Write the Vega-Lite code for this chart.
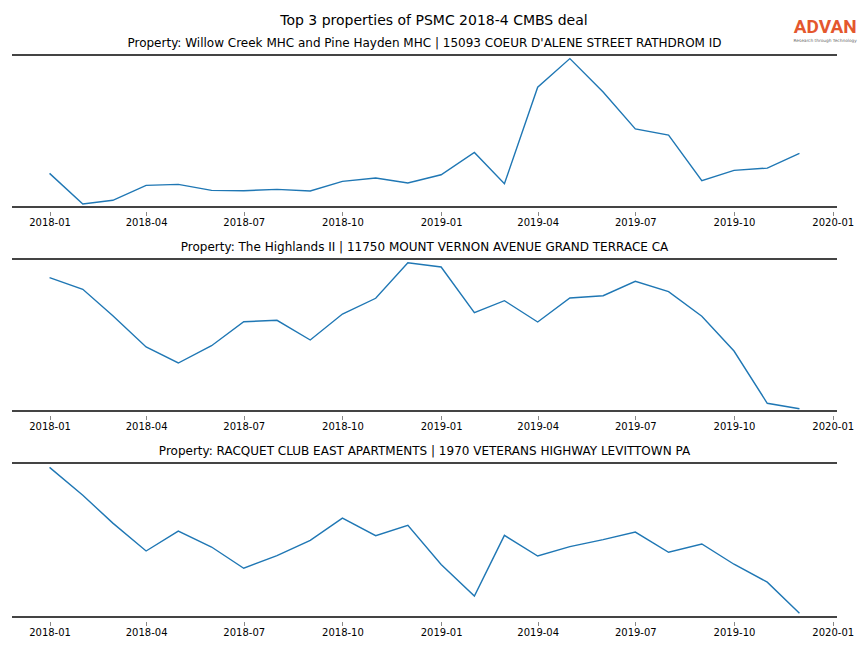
{
  "$schema": "https://vega.github.io/schema/vega-lite/v6.json",
  "padding": {"left": 11, "top": 13, "right": 4, "bottom": 4},
  "bounds": "flush",
  "spacing": 52,
  "title": {"text": "Top 3 properties of PSMC 2018-4 CMBS deal", "font": "DejaVu Sans", "fontSize": 14, "fontWeight": "normal", "color": "#000000", "anchor": "middle", "baseline": "alphabetic", "offset": -20.4},
  "data": {"values": [
    {"p": 1, "d": "2018-01-01", "v": 33.7}, {"p": 1, "d": "2018-02-01", "v": 3.0}, {"p": 1, "d": "2018-03-01", "v": 6.7}, {"p": 1, "d": "2018-04-01", "v": 21.7},
    {"p": 1, "d": "2018-05-01", "v": 22.7}, {"p": 1, "d": "2018-06-01", "v": 16.7}, {"p": 1, "d": "2018-07-01", "v": 16.3}, {"p": 1, "d": "2018-08-01", "v": 17.7},
    {"p": 1, "d": "2018-09-01", "v": 16.0}, {"p": 1, "d": "2018-10-01", "v": 25.7}, {"p": 1, "d": "2018-11-01", "v": 29.0}, {"p": 1, "d": "2018-12-01", "v": 24.0},
    {"p": 1, "d": "2019-01-01", "v": 32.3}, {"p": 1, "d": "2019-02-01", "v": 54.7}, {"p": 1, "d": "2019-03-01", "v": 23.3}, {"p": 1, "d": "2019-04-01", "v": 120.0},
    {"p": 1, "d": "2019-05-01", "v": 148.7}, {"p": 1, "d": "2019-06-01", "v": 115.3}, {"p": 1, "d": "2019-07-01", "v": 78.3}, {"p": 1, "d": "2019-08-01", "v": 72.0},
    {"p": 1, "d": "2019-09-01", "v": 26.3}, {"p": 1, "d": "2019-10-01", "v": 36.7}, {"p": 1, "d": "2019-11-01", "v": 39.0}, {"p": 1, "d": "2019-12-01", "v": 53.7},
    {"p": 2, "d": "2018-01-01", "v": 133.3}, {"p": 2, "d": "2018-02-01", "v": 121.7}, {"p": 2, "d": "2018-03-01", "v": 95.3}, {"p": 2, "d": "2018-04-01", "v": 64.0},
    {"p": 2, "d": "2018-05-01", "v": 48.0}, {"p": 2, "d": "2018-06-01", "v": 65.3}, {"p": 2, "d": "2018-07-01", "v": 89.3}, {"p": 2, "d": "2018-08-01", "v": 90.7},
    {"p": 2, "d": "2018-09-01", "v": 71.0}, {"p": 2, "d": "2018-10-01", "v": 97.0}, {"p": 2, "d": "2018-11-01", "v": 112.7}, {"p": 2, "d": "2018-12-01", "v": 148.3},
    {"p": 2, "d": "2019-01-01", "v": 144.0}, {"p": 2, "d": "2019-02-01", "v": 98.3}, {"p": 2, "d": "2019-03-01", "v": 110.3}, {"p": 2, "d": "2019-04-01", "v": 89.0},
    {"p": 2, "d": "2019-05-01", "v": 113.0}, {"p": 2, "d": "2019-06-01", "v": 115.3}, {"p": 2, "d": "2019-07-01", "v": 129.7}, {"p": 2, "d": "2019-08-01", "v": 119.3},
    {"p": 2, "d": "2019-09-01", "v": 94.7}, {"p": 2, "d": "2019-10-01", "v": 60.0}, {"p": 2, "d": "2019-11-01", "v": 7.7}, {"p": 2, "d": "2019-12-01", "v": 2.3},
    {"p": 3, "d": "2018-01-01", "v": 150.3}, {"p": 3, "d": "2018-02-01", "v": 122.3}, {"p": 3, "d": "2018-03-01", "v": 94.3}, {"p": 3, "d": "2018-04-01", "v": 66.3},
    {"p": 3, "d": "2018-05-01", "v": 86.3}, {"p": 3, "d": "2018-06-01", "v": 70.3}, {"p": 3, "d": "2018-07-01", "v": 49.0}, {"p": 3, "d": "2018-08-01", "v": 61.7},
    {"p": 3, "d": "2018-09-01", "v": 77.0}, {"p": 3, "d": "2018-10-01", "v": 99.3}, {"p": 3, "d": "2018-11-01", "v": 81.7}, {"p": 3, "d": "2018-12-01", "v": 92.0},
    {"p": 3, "d": "2019-01-01", "v": 52.7}, {"p": 3, "d": "2019-02-01", "v": 21.0}, {"p": 3, "d": "2019-03-01", "v": 82.0}, {"p": 3, "d": "2019-04-01", "v": 61.3},
    {"p": 3, "d": "2019-05-01", "v": 70.7}, {"p": 3, "d": "2019-06-01", "v": 77.7}, {"p": 3, "d": "2019-07-01", "v": 85.3}, {"p": 3, "d": "2019-08-01", "v": 65.0},
    {"p": 3, "d": "2019-09-01", "v": 73.3}, {"p": 3, "d": "2019-10-01", "v": 53.0}, {"p": 3, "d": "2019-11-01", "v": 35.0}, {"p": 3, "d": "2019-12-01", "v": 3.7}
  ]},
  "vconcat": [
    {
      "width": 825, "height": 152,
      "title": {"text": "Property: Willow Creek MHC and Pine Hayden MHC | 15093 COEUR D'ALENE STREET RATHDROM ID", "offset": -31.7},
      "transform": [{"filter": "datum.p == 1"}],
      "layer": [
        {"mark": {"type": "line", "color": "#1f77b4", "strokeWidth": 1.4},
         "encoding": {
           "x": {"field": "d", "type": "temporal", "scale": {"type": "utc", "domain": [{"year": 2017, "month": 11, "date": 27, "utc": true}, {"year": 2020, "month": 1, "date": 5, "utc": true}]}, "axis": {"format": "%Y-%m", "tickCount": {"interval": "month", "step": 3}, "title": null}},
           "y": {"field": "v", "type": "quantitative", "scale": {"domain": [0, 152.3], "nice": false, "zero": false}, "axis": null}}},
        {"data": {"values": [{}]}, "mark": {"type": "rule", "color": "#444444", "strokeWidth": 2}, "encoding": {"y": {"datum": 0}}},
        {"data": {"values": [{}]}, "mark": {"type": "rule", "color": "#444444", "strokeWidth": 2}, "encoding": {"y": {"datum": 152.3}}},
        {"data": {"values": [{"t": "ADVAN"}]}, "mark": {"type": "text", "font": "Roboto", "fontWeight": "bold", "fontSize": 19, "color": "#e4572e", "align": "center", "baseline": "middle"},
         "encoding": {"text": {"field": "t"}, "x": {"datum": {"year": 2019, "month": 12, "date": 25, "utc": true}}, "y": {"datum": 180}}},
        {"data": {"values": [{"t": "Research through Technology"}]}, "mark": {"type": "text", "font": "DejaVu Sans", "fontSize": 4.3, "color": "#666666", "align": "center", "baseline": "middle"},
         "encoding": {"text": {"field": "t"}, "x": {"datum": {"year": 2019, "month": 12, "date": 25, "utc": true}}, "y": {"datum": 166.3}}}
      ]
    },
    {
      "width": 825, "height": 152,
      "title": {"text": "Property: The Highlands II | 11750 MOUNT VERNON AVENUE GRAND TERRACE CA"},
      "transform": [{"filter": "datum.p == 2"}],
      "layer": [
        {"mark": {"type": "line", "color": "#1f77b4", "strokeWidth": 1.4},
         "encoding": {
           "x": {"field": "d", "type": "temporal", "scale": {"type": "utc", "domain": [{"year": 2017, "month": 11, "date": 27, "utc": true}, {"year": 2020, "month": 1, "date": 5, "utc": true}]}, "axis": {"format": "%Y-%m", "tickCount": {"interval": "month", "step": 3}, "title": null}},
           "y": {"field": "v", "type": "quantitative", "scale": {"domain": [0, 152], "nice": false, "zero": false}, "axis": null}}},
        {"data": {"values": [{}]}, "mark": {"type": "rule", "color": "#444444", "strokeWidth": 2}, "encoding": {"y": {"datum": 0}}},
        {"data": {"values": [{}]}, "mark": {"type": "rule", "color": "#444444", "strokeWidth": 2}, "encoding": {"y": {"datum": 152}}}
      ]
    },
    {
      "width": 825, "height": 154,
      "title": {"text": "Property: RACQUET CLUB EAST APARTMENTS | 1970 VETERANS HIGHWAY LEVITTOWN PA"},
      "transform": [{"filter": "datum.p == 3"}],
      "layer": [
        {"mark": {"type": "line", "color": "#1f77b4", "strokeWidth": 1.4},
         "encoding": {
           "x": {"field": "d", "type": "temporal", "scale": {"type": "utc", "domain": [{"year": 2017, "month": 11, "date": 27, "utc": true}, {"year": 2020, "month": 1, "date": 5, "utc": true}]}, "axis": {"format": "%Y-%m", "tickCount": {"interval": "month", "step": 3}, "title": null}},
           "y": {"field": "v", "type": "quantitative", "scale": {"domain": [0, 154.7], "nice": false, "zero": false}, "axis": null}}},
        {"data": {"values": [{}]}, "mark": {"type": "rule", "color": "#444444", "strokeWidth": 2}, "encoding": {"y": {"datum": 0}}},
        {"data": {"values": [{}]}, "mark": {"type": "rule", "color": "#444444", "strokeWidth": 2}, "encoding": {"y": {"datum": 154.7}}}
      ]
    }
  ],
  "config": {
    "font": "DejaVu Sans",
    "view": {"stroke": null},
    "title": {"font": "DejaVu Sans", "fontSize": 12, "fontWeight": "normal", "color": "#000000", "baseline": "alphabetic", "offset": 4, "anchor": "middle"},
    "axis": {"domain": false, "grid": false, "offset": 4.5, "ticks": true, "tickSize": 4, "tickColor": "#888888", "tickWidth": 1, "labelFont": "DejaVu Sans", "labelFontSize": 10, "labelColor": "#000000", "labelPadding": 1.5}
  }
}
